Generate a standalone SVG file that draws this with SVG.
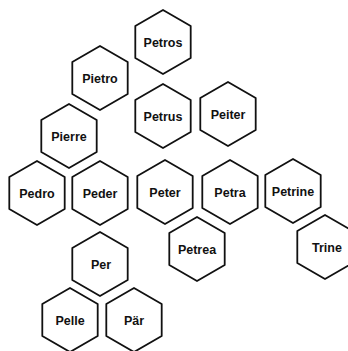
<svg xmlns="http://www.w3.org/2000/svg" xmlns:xlink="http://www.w3.org/1999/xlink" width="348" height="351" viewBox="0 0 348 351">
<style>
.hex{fill:#fff;stroke:#111;stroke-width:1.8;stroke-linejoin:round}
.lbl{font-family:"Liberation Sans",Arial,sans-serif;font-weight:bold;font-size:12.5px;fill:#111;text-anchor:middle}
</style>
<defs>
<path id="hx" d="M0,-32 L27.7,-16 L27.7,16 L0,32 L-27.7,16 L-27.7,-16 Z"/>
</defs>
<rect width="348" height="351" fill="#fff"/>
<g id="connectors"></g>
<g id="n-petros"><use xlink:href="#hx" href="#hx" class="hex" x="163" y="42"/><text class="lbl" x="163" y="46.5">Petros</text></g>
<g id="n-pietro"><use xlink:href="#hx" href="#hx" class="hex" x="100" y="78"/><text class="lbl" x="100" y="82.5">Pietro</text></g>
<g id="n-petrus"><use xlink:href="#hx" href="#hx" class="hex" x="163" y="116"/><text class="lbl" x="163" y="120.5">Petrus</text></g>
<g id="n-peiter"><use xlink:href="#hx" href="#hx" class="hex" x="228" y="114"/><text class="lbl" x="228" y="118.5">Peiter</text></g>
<g id="n-pierre"><use xlink:href="#hx" href="#hx" class="hex" x="69" y="136"/><text class="lbl" x="69" y="140.5">Pierre</text></g>
<g id="n-pedro"><use xlink:href="#hx" href="#hx" class="hex" x="37" y="193"/><text class="lbl" x="37" y="198">Pedro</text></g>
<g id="n-peder"><use xlink:href="#hx" href="#hx" class="hex" x="100" y="193"/><text class="lbl" x="100" y="198">Peder</text></g>
<g id="n-peter"><use xlink:href="#hx" href="#hx" class="hex" x="165" y="192"/><text class="lbl" x="165" y="197">Peter</text></g>
<g id="n-petra"><use xlink:href="#hx" href="#hx" class="hex" x="230" y="192"/><text class="lbl" x="230" y="197">Petra</text></g>
<g id="n-petrine"><use xlink:href="#hx" href="#hx" class="hex" x="293" y="191"/><text class="lbl" x="293" y="196">Petrine</text></g>
<g id="n-petrea"><use xlink:href="#hx" href="#hx" class="hex" x="197" y="249"/><text class="lbl" x="197" y="253.5">Petrea</text></g>
<g id="n-trine"><use xlink:href="#hx" href="#hx" class="hex" x="325" y="247"/><text class="lbl" x="327" y="251.5">Trine</text></g>
<g id="n-per"><use xlink:href="#hx" href="#hx" class="hex" x="100" y="264"/><text class="lbl" x="101" y="269">Per</text></g>
<g id="n-pelle"><use xlink:href="#hx" href="#hx" class="hex" x="70" y="320"/><text class="lbl" x="70" y="325">Pelle</text></g>
<g id="n-par"><use xlink:href="#hx" href="#hx" class="hex" x="134" y="320"/><text class="lbl" x="134" y="325">Pär</text></g>
</svg>
